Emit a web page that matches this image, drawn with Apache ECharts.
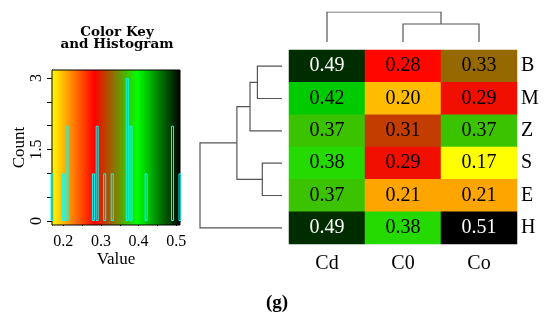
<!DOCTYPE html>
<html><head><meta charset="utf-8">
<script src="https://cdn.jsdelivr.net/npm/echarts@6/dist/echarts.min.js"></script>
<style>html,body{margin:0;padding:0;background:#fff}#c{width:550px;height:321px}</style>
</head><body><div id="c"></div>
<script>
const columns = ['Cd','C0','Co'];
const rows = ['B','M','Z','S','E','H'];
const valuesCd = [0.49,0.42,0.37,0.38,0.37,0.49];
const valuesC0 = [0.28,0.20,0.31,0.29,0.21,0.38];
const valuesCo = [0.33,0.29,0.37,0.17,0.21,0.51];
const histValues = [0.17,0.20,0.21,0.28,0.29,0.31,0.33,0.37,0.38,0.42,0.49,0.51];
const histCounts = [1,1,2,1,2,1,1,3,2,1,2,1];
const histXTicks = [0.2,0.25,0.3,0.35,0.4,0.45,0.5];
const histXLabels = [0.2,0.3,0.4,0.5];
const histYTicks = [0,0.5,1,1.5,2,2.5,3];
const histYLabels = [0,1.5,3];
// dendrogram merges: [childA, childB, height]; 'L#' = leaf index, 'M#' = earlier merge
const rowMerges = [['L0','L1',0.30],['M0','L2',0.39],['L3','L4',0.24],['M1','M2',0.55],['M3','L5',1.0]];
const colMerges = [['L1','L2',0.6],['L0','M0',1.0]];
const keyRange = [0.17, 0.51];
const keyColors = ['#ffff00','#ff0000','#00ff00','#000000'];

const SERIF = 'Liberation Serif';
const colValues = [valuesCd, valuesC0, valuesCo];
const heatData = [];
colValues.forEach((arr, ci) => arr.forEach((v, ri) => {
  heatData.push({value: [ci, ri, v], label: {color: v > 0.45 ? '#fff' : '#000'}});
}));

function dendro(merges, horizontal) {
  const pos = [], hgt = [];
  const get = id => id[0] === 'L' ? [+id.slice(1), 0] : [pos[+id.slice(1)], hgt[+id.slice(1)]];
  return merges.map((m, i) => {
    const [pa, ha] = get(m[0]); const [pb, hb] = get(m[1]); const h = m[2];
    pos[i] = (pa + pb) / 2; hgt[i] = h;
    const pts = [[pa, ha], [pa, h], [pb, h], [pb, hb]];
    return {coords: horizontal ? pts.map(p => [p[1], p[0]]) : pts};
  });
}

const chart = echarts.init(document.getElementById('c'));
const hidden = {show: false};
chart.setOption({
  animation: false,
  backgroundColor: '#fff',
  graphic: [{
    type: 'text', x: 117, y: 32,
    style: {text: 'Color Key', font: 'bold 13.5px "DejaVu Serif"', fill: '#000', align: 'center', verticalAlign: 'middle'}
  }, {
    type: 'text', x: 117, y: 44,
    style: {text: 'and Histogram', font: 'bold 13.5px "DejaVu Serif"', fill: '#000', align: 'center', verticalAlign: 'middle'}
  }, {
    type: 'text', x: 277, y: 303,
    style: {text: '(g)', font: 'bold 19px "Liberation Serif"', fill: '#000', align: 'center', verticalAlign: 'middle'}
  }],
  visualMap: {
    show: false, seriesIndex: 0, dimension: 2, min: keyRange[0], max: keyRange[1],
    inRange: {color: keyColors}
  },
  grid: [
    {left: 289, top: 50, width: 228, height: 194},
    {left: 200, top: 50, width: 82, height: 194},
    {left: 289, top: 12, width: 228, height: 30},
    {left: 52, top: 70, width: 128, height: 155}
  ],
  xAxis: [
    {gridIndex: 0, type: 'category', data: columns, axisLine: hidden, axisTick: hidden,
     axisLabel: {fontFamily: SERIF, fontSize: 20, color: '#000', margin: 10}},
    {gridIndex: 1, type: 'value', min: 0, max: 1, inverse: true, show: false},
    {gridIndex: 2, type: 'value', min: -0.5, max: 2.5, show: false},
    {gridIndex: 3, type: 'value', min: keyRange[0], max: keyRange[1],
     splitLine: hidden,
     axisLine: {show: true, lineStyle: {color: '#000'}},
     axisTick: {show: true, length: 5, customValues: histXTicks, lineStyle: {color: '#000'}},
     axisLabel: {customValues: histXLabels, fontFamily: SERIF, fontSize: 16, color: '#000', margin: 9,
                 formatter: v => String(v)},
     name: 'Value', nameLocation: 'middle', nameGap: 25,
     nameTextStyle: {fontFamily: SERIF, fontSize: 17, color: '#000'}}
  ],
  yAxis: [
    {gridIndex: 0, type: 'category', data: rows, inverse: true, position: 'right',
     axisLine: hidden, axisTick: hidden,
     axisLabel: {fontFamily: SERIF, fontSize: 20, color: '#000', margin: 4}},
    {gridIndex: 1, type: 'value', min: -0.5, max: 5.5, inverse: true, show: false},
    {gridIndex: 2, type: 'value', min: 0, max: 1, show: false},
    {gridIndex: 3, type: 'value', min: -0.084, max: 3.17,
     splitLine: hidden,
     axisLine: {show: true, lineStyle: {color: '#000'}},
     axisTick: {show: true, length: 5, customValues: histYTicks, lineStyle: {color: '#000'}},
     axisLabel: {customValues: histYLabels, rotate: 90, fontFamily: SERIF, fontSize: 16, color: '#000', margin: 7,
                 formatter: v => String(v)},
     name: 'Count', nameLocation: 'middle', nameGap: 23, nameRotate: 90,
     nameTextStyle: {fontFamily: SERIF, fontSize: 17, color: '#000'}}
  ],
  series: [
    {type: 'heatmap', xAxisIndex: 0, yAxisIndex: 0, data: heatData,
     label: {show: true, fontFamily: SERIF, fontSize: 20, formatter: p => p.value[2].toFixed(2)},
     itemStyle: {borderWidth: 0}},
    {type: 'lines', coordinateSystem: 'cartesian2d', xAxisIndex: 1, yAxisIndex: 1, polyline: true,
     data: dendro(rowMerges, true), lineStyle: {color: '#555', width: 1.2, opacity: 1}},
    {type: 'lines', coordinateSystem: 'cartesian2d', xAxisIndex: 2, yAxisIndex: 2, polyline: true,
     data: dendro(colMerges, false), lineStyle: {color: '#555', width: 1.2, opacity: 1}},
    {type: 'custom', xAxisIndex: 3, yAxisIndex: 3, z: 1, data: [[keyRange[0], keyRange[1]]],
     renderItem: (params, api) => {
       const a = api.coord([api.value(0), -0.084]);
       const b = api.coord([api.value(1), 3.17]);
       return {type: 'rect', shape: {x: a[0], y: b[1], width: b[0] - a[0], height: a[1] - b[1]},
         style: {fill: new echarts.graphic.LinearGradient(0, 0, 1, 0,
           keyColors.map((c, i) => ({offset: i / (keyColors.length - 1), color: c}))),
           stroke: '#000', lineWidth: 1}};
     }},
    {type: 'bar', xAxisIndex: 3, yAxisIndex: 3, z: 3, barWidth: 3,
     data: histValues.map((v, i) => [v, histCounts[i]]),
     itemStyle: {color: 'rgba(0,0,0,0)', borderColor: '#00ffff', borderWidth: 1}}
  ]
});
</script></body></html>
